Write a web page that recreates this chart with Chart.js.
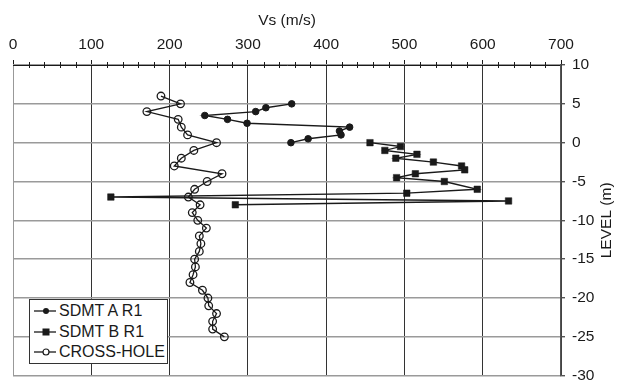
<!DOCTYPE html>
<html>
<head>
<meta charset="utf-8">
<script src="https://cdn.jsdelivr.net/npm/chart.js@4/dist/chart.umd.min.js"></script>
<style>
  body { margin: 0; background: #fff; }
  #wrap { position: relative; width: 624px; height: 392px; }
  #legend {
    position: absolute; left: 29px; top: 299px; width: 139px; height: 65px;
    box-sizing: border-box; border: 1.5px solid #333; background: #fff;
    font: 16px "Liberation Sans", Arial, sans-serif; color: #1a1a1a;
    padding-top: 1px;
  }
  #legend .row { display: flex; align-items: center; height: 20.5px; }
  #legend svg { margin-left: 4px; margin-right: 3px; }
</style>
</head>
<body>
<div id="wrap">
  <canvas id="chart" width="624" height="392"></canvas>
  <div id="legend">
    <div class="row"><svg width="22" height="10"><line x1="0" y1="5" x2="22" y2="5" stroke="#1a1a1a" stroke-width="1.3"/><circle cx="12" cy="5" r="3" fill="#1a1a1a"/></svg>SDMT A R1</div>
    <div class="row"><svg width="22" height="10"><line x1="0" y1="5" x2="22" y2="5" stroke="#1a1a1a" stroke-width="1.3"/><rect x="8.5" y="1.5" width="7" height="7" fill="#1a1a1a"/></svg>SDMT B R1</div>
    <div class="row"><svg width="22" height="10"><line x1="0" y1="5" x2="22" y2="5" stroke="#1a1a1a" stroke-width="1.3"/><circle cx="12" cy="5" r="3" fill="#fff" stroke="#1a1a1a" stroke-width="1.2"/></svg>CROSS-HOLE</div>
  </div>
</div>
<script>
// --- DATA ---
const xTitle = 'Vs (m/s)';
const yTitle = 'LEVEL (m)';

const sdmtALevel = [5, 4.5, 4, 3.5, 3, 2.5, 2, 1.5, 1, 0.5, 0];
const sdmtAVs = [356, 323, 310, 245, 274, 299, 430, 417, 419, 377, 355];

const sdmtBLevel = [0, -0.5, -1, -1.5, -2, -2.5, -3, -3.5, -4, -4.5, -5, -6, -6.5, -7, -7.5, -8];
const sdmtBVs = [456, 495, 475, 516, 489, 537, 573, 577, 514, 490, 551, 593, 503, 125, 633, 284];

const crossLevel = [6, 5, 4, 3, 2, 1, 0, -1, -2, -3, -4, -5, -6, -7, -8, -9, -10, -11, -12, -13, -14, -15, -16, -17, -18, -19, -20, -21, -22, -23, -24, -25];
const crossVs = [189, 214, 171, 211, 215, 223, 260, 231, 215, 206, 267, 248, 232, 224, 239, 229, 236, 247, 238, 240, 238, 232, 233, 230, 226, 242, 249, 250, 260, 255, 255, 270];

const toPoints = (vs, lvl) => vs.map((v, i) => ({ x: v, y: lvl[i] }));

const ink = '#1a1a1a';
const FONT = '"Liberation Sans", Arial, sans-serif';

// minor ticks on the top axis + y title read bottom-to-top
const decorPlugin = {
  id: 'decor',
  afterDraw(chart) {
    const { ctx, chartArea, scales } = chart;
    const xs = scales.x;
    ctx.save();
    ctx.strokeStyle = ink;
    ctx.lineWidth = 1;
    for (let v = 20; v < 700; v += 20) {
      if (v % 100 === 0) continue;
      const px = Math.round(xs.getPixelForValue(v)) + 0.5;
      ctx.beginPath();
      ctx.moveTo(px, chartArea.top - 3);
      ctx.lineTo(px, chartArea.top + 3);
      ctx.stroke();
    }
    ctx.fillStyle = ink;
    ctx.font = '15.5px ' + FONT;
    ctx.textAlign = 'center';
    ctx.textBaseline = 'middle';
    ctx.translate(607, (chartArea.top + chartArea.bottom) / 2);
    ctx.rotate(-Math.PI / 2);
    ctx.fillText(yTitle, 0, 0);
    ctx.restore();
  }
};

new Chart(document.getElementById('chart'), {
  type: 'scatter',
  data: {
    datasets: [
      {
        label: 'SDMT A R1', data: toPoints(sdmtAVs, sdmtALevel), showLine: true,
        borderColor: ink, borderWidth: 1.4, pointStyle: 'circle', pointRadius: 3.3,
        pointBackgroundColor: ink, pointBorderColor: ink, pointBorderWidth: 1
      },
      {
        label: 'SDMT B R1', data: toPoints(sdmtBVs, sdmtBLevel), showLine: true,
        borderColor: ink, borderWidth: 1.4, pointStyle: 'rect', pointRadius: 4.6,
        pointBackgroundColor: ink, pointBorderColor: ink, pointBorderWidth: 0.5
      },
      {
        label: 'CROSS-HOLE', data: toPoints(crossVs, crossLevel), showLine: true,
        borderColor: ink, borderWidth: 1.3, pointStyle: 'circle', pointRadius: 3.8,
        pointBackgroundColor: 'rgba(255,255,255,0)', pointBorderColor: ink, pointBorderWidth: 1.3
      }
    ]
  },
  options: {
    responsive: false,
    devicePixelRatio: 1,
    animation: false,
    layout: { padding: { left: 13, bottom: 7, top: 0, right: 0 } },
    plugins: { legend: { display: false }, tooltip: { enabled: false } },
    scales: {
      x: {
        type: 'linear', position: 'top', min: 0, max: 700,
        ticks: { stepSize: 100, color: ink, padding: 6, font: { size: 15.5, family: FONT }, maxRotation: 0 },
        grid: {
          color: c => (c.tick && c.tick.value === 0 ? '#999' : '#333'),
          lineWidth: 1, tickLength: 5, tickColor: ink
        },
        border: { color: ink, width: 1 },
        title: { display: true, text: xTitle, color: ink, font: { size: 15.5, family: FONT }, padding: { top: 11, bottom: 0 } },
        afterFit: s => { s.height = 65; }
      },
      y: {
        type: 'linear', position: 'right', min: -30, max: 10,
        ticks: { stepSize: 5, color: ink, padding: 7, font: { size: 15.5, family: FONT } },
        grid: { color: '#9a9a9a', lineWidth: 1.4, tickLength: 4, tickColor: '#555' },
        border: { color: '#555', width: 1.5 },
        title: { display: false },
        afterFit: s => { s.width = 63; }
      }
    }
  },
  plugins: [decorPlugin]
});
</script>
</body>
</html>
